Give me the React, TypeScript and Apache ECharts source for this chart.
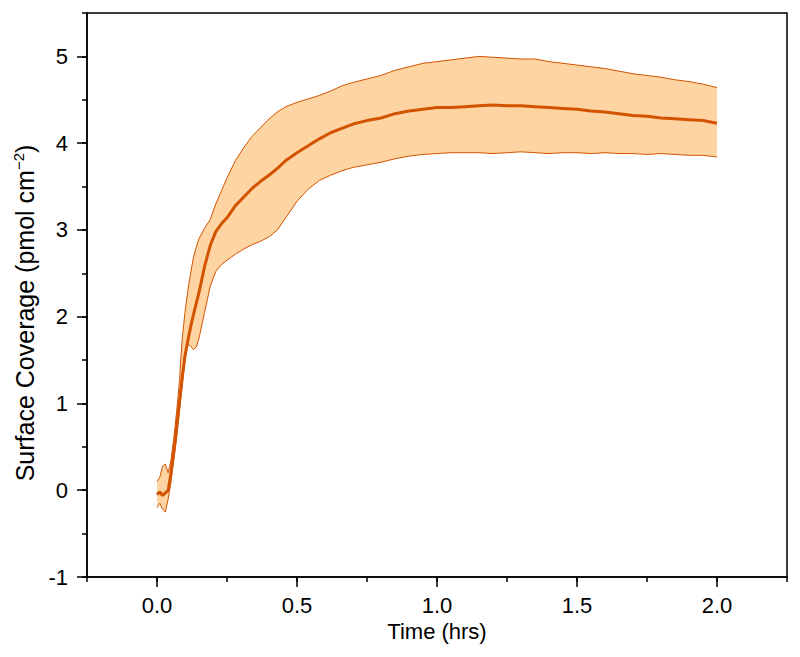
import React, { useEffect, useRef } from "react";
import * as echarts from "echarts";

const timeHrs = [0, 0.01, 0.02, 0.03, 0.04, 0.05, 0.06, 0.07, 0.08, 0.09,
  0.10, 0.11, 0.12, 0.13, 0.14, 0.15, 0.17, 0.19, 0.21, 0.23,
  0.25, 0.28, 0.31, 0.34, 0.37, 0.40, 0.43, 0.46, 0.50, 0.54,
  0.58, 0.62, 0.66, 0.70, 0.75, 0.80, 0.85, 0.90, 0.95, 1.00,
  1.05, 1.10, 1.15, 1.20, 1.25, 1.30, 1.35, 1.40, 1.45, 1.50,
  1.55, 1.60, 1.65, 1.70, 1.75, 1.80, 1.85, 1.90, 1.95, 2.00];

const meanCoverage = [-0.05, -0.02, -0.06, -0.03, 0.0, 0.2, 0.45, 0.72, 1.02, 1.3,
  1.55, 1.72, 1.88, 2.02, 2.15, 2.28, 2.58, 2.82, 2.98, 3.07,
  3.14, 3.28, 3.38, 3.48, 3.56, 3.63, 3.71, 3.80, 3.89, 3.97,
  4.05, 4.12, 4.17, 4.22, 4.26, 4.29, 4.34, 4.37, 4.39, 4.41,
  4.41, 4.42, 4.43, 4.44, 4.43, 4.43, 4.42, 4.41, 4.40, 4.39,
  4.37, 4.36, 4.34, 4.32, 4.31, 4.29, 4.28, 4.27, 4.26, 4.23];

const upperCoverage = [0.1, 0.15, 0.28, 0.3, 0.2, 0.35, 0.6, 0.9, 1.25, 1.75,
  2.05, 2.3, 2.5, 2.68, 2.8, 2.9, 3.02, 3.12, 3.3, 3.45,
  3.6, 3.8, 3.95, 4.08, 4.18, 4.28, 4.36, 4.42, 4.47, 4.51,
  4.55, 4.6, 4.66, 4.7, 4.74, 4.78, 4.84, 4.88, 4.92, 4.94,
  4.96, 4.98, 5.0, 4.99, 4.98, 4.97, 4.97, 4.94, 4.92, 4.9,
  4.88, 4.86, 4.83, 4.8, 4.78, 4.76, 4.73, 4.71, 4.68, 4.64];

const lowerCoverage = [-0.2, -0.15, -0.22, -0.25, -0.1, 0.1, 0.35, 0.6, 0.9, 1.2,
  1.5, 1.68, 1.66, 1.62, 1.65, 1.75, 2.05, 2.35, 2.52, 2.6,
  2.65, 2.72, 2.78, 2.83, 2.87, 2.92, 3.0, 3.14, 3.33, 3.47,
  3.57, 3.63, 3.68, 3.72, 3.75, 3.78, 3.82, 3.85, 3.87, 3.88,
  3.89, 3.89, 3.89, 3.88, 3.89, 3.9, 3.89, 3.88, 3.89, 3.89,
  3.88, 3.89, 3.88, 3.88, 3.87, 3.88, 3.87, 3.86, 3.86, 3.84];

const xMajorTicks = [0, 0.5, 1.0, 1.5, 2.0];
const yMajorTicks = [-1, 0, 1, 2, 3, 4, 5];

const FONT = "'Liberation Sans', Arial, sans-serif";
const LINE_COLOR = "#D35400";
const BAND_COLOR = "#FDD4A2";

export default function App() {
  const ref = useRef<HTMLDivElement>(null);

  useEffect(() => {
    if (!ref.current) return;
    const chart = echarts.init(ref.current, null, { renderer: "svg" });
    const pair = (ys: number[]) => timeHrs.map((t, i) => [t, ys[i]]);
    const axisLineStyle = { color: "#000", width: 1.5 };

    const option: any = {
      animation: false,
      backgroundColor: "#fff",
      grid: {
        left: 87, right: 13, top: 13, bottom: 80,
        show: true, borderColor: "#000", borderWidth: 1.5, backgroundColor: "transparent",
      },
      xAxis: [
        {
          type: "value", min: -0.25, max: 2.25, position: "bottom",
          axisLine: { show: true, onZero: false, lineStyle: axisLineStyle },
          axisTick: { show: true, customValues: xMajorTicks, length: 10, lineStyle: axisLineStyle },
          axisLabel: {
            customValues: xMajorTicks, formatter: (v: number) => v.toFixed(1),
            fontSize: 22, color: "#000", margin: 17, fontFamily: FONT,
          },
          splitLine: { show: false },
          name: "Time (hrs)", nameLocation: "middle", nameGap: 40,
          nameTextStyle: { fontSize: 22, color: "#000", fontFamily: FONT },
        },
        {
          type: "value", min: -0.25, max: 2.25, interval: 0.25, position: "bottom",
          axisLine: { show: false, onZero: false },
          axisTick: { show: true, length: 5, lineStyle: axisLineStyle },
          axisLabel: { show: false },
          splitLine: { show: false },
        },
      ],
      yAxis: [
        {
          type: "value", min: -1, max: 5.5, position: "left",
          axisLine: { show: true, onZero: false, lineStyle: axisLineStyle },
          axisTick: { show: true, customValues: yMajorTicks, length: 10, lineStyle: axisLineStyle },
          axisLabel: {
            customValues: yMajorTicks, formatter: (v: number) => String(v),
            fontSize: 22, color: "#000", margin: 19, fontFamily: FONT,
          },
          splitLine: { show: false },
          name: "{a|Surface Coverage (pmol cm}{sup|\u22122}{a|)}",
          nameLocation: "middle", nameGap: 47,
          nameTextStyle: {
            fontSize: 25, color: "#000", fontFamily: FONT,
            padding: [0, 36, 0, 0],
            rich: {
              a: { fontSize: 25, color: "#000", fontFamily: FONT, lineHeight: 28 },
              sup: { fontSize: 15, color: "#000", fontFamily: FONT, verticalAlign: "top", lineHeight: 16 },
            },
          },
        },
        {
          type: "value", min: -1, max: 5.5, interval: 0.5, position: "left",
          axisLine: { show: false, onZero: false },
          axisTick: { show: true, length: 5, lineStyle: axisLineStyle },
          axisLabel: { show: false },
          splitLine: { show: false },
        },
      ],
      series: [
        {
          type: "custom", name: "band", xAxisIndex: 0, yAxisIndex: 0,
          silent: true, z: 1, clip: true,
          data: [[0, 0]],
          encode: { x: 0, y: 1 },
          renderItem: (_params: any, api: any) => {
            const pts: number[][] = [];
            for (let i = 0; i < timeHrs.length; i++) pts.push(api.coord([timeHrs[i], upperCoverage[i]]));
            for (let i = timeHrs.length - 1; i >= 0; i--) pts.push(api.coord([timeHrs[i], lowerCoverage[i]]));
            return { type: "polygon", shape: { points: pts }, style: { fill: BAND_COLOR, stroke: "none" } };
          },
        },
        {
          type: "line", name: "upper", data: pair(upperCoverage), xAxisIndex: 0, yAxisIndex: 0,
          showSymbol: false, symbol: "none", z: 3,
          lineStyle: { color: LINE_COLOR, width: 1 },
        },
        {
          type: "line", name: "lower", data: pair(lowerCoverage), xAxisIndex: 0, yAxisIndex: 0,
          showSymbol: false, symbol: "none", z: 3,
          lineStyle: { color: LINE_COLOR, width: 1 },
        },
        {
          type: "line", name: "mean", data: pair(meanCoverage), xAxisIndex: 0, yAxisIndex: 0,
          showSymbol: false, symbol: "none", z: 4,
          lineStyle: { color: LINE_COLOR, width: 3 },
        },
      ],
    };
    chart.setOption(option);
    return () => chart.dispose();
  }, []);

  return (
    <div
      ref={ref}
      style={{ position: "fixed", left: 0, top: 0, width: 800, height: 657 }}
    />
  );
}
